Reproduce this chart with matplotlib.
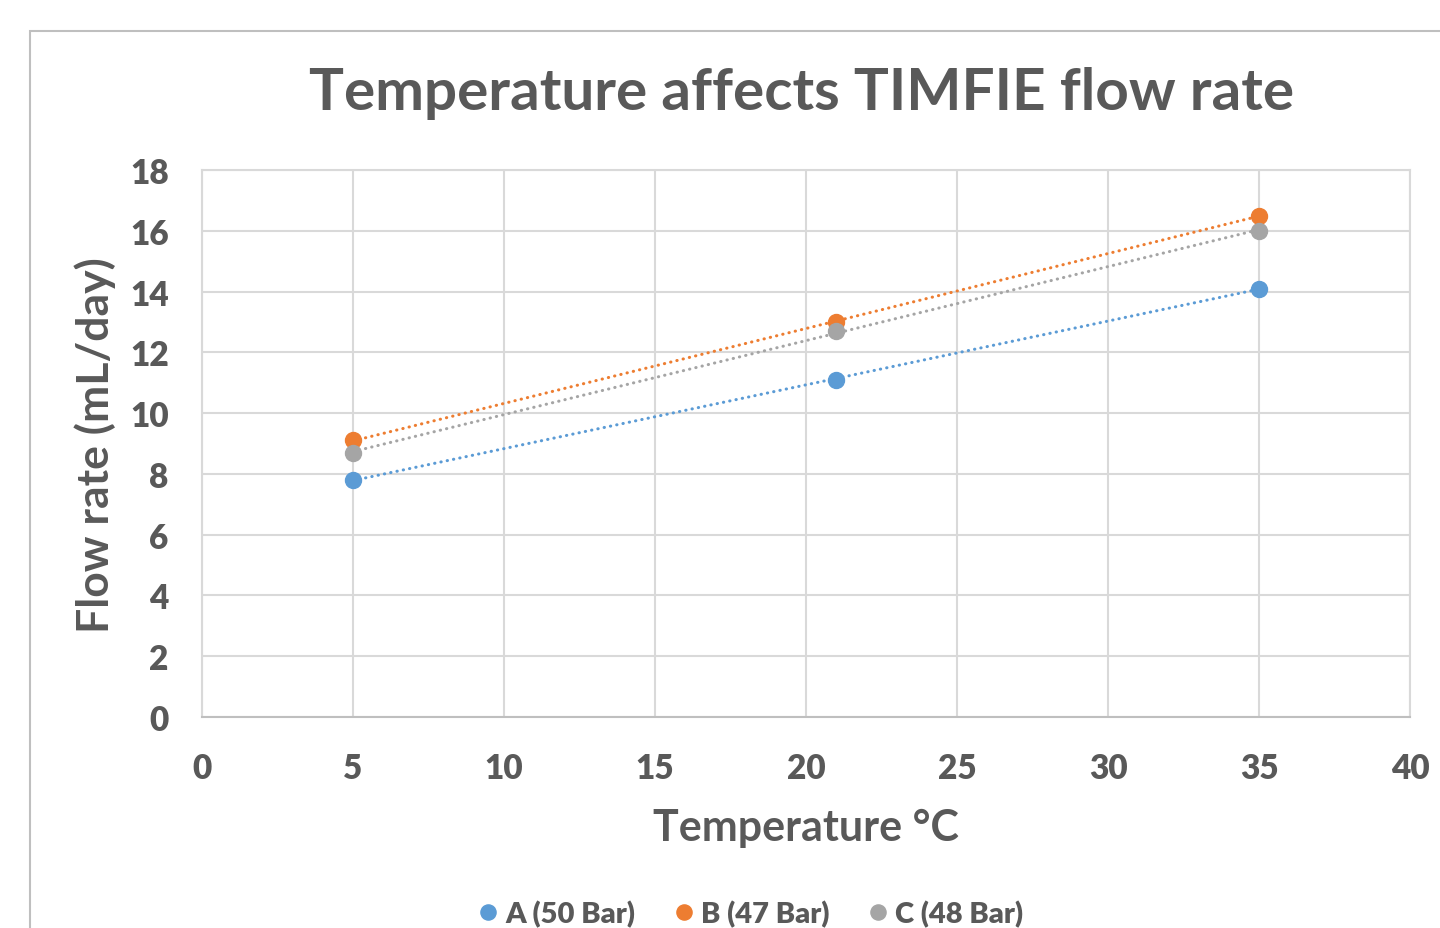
import numpy as np
import matplotlib.pyplot as plt
from matplotlib.patches import Rectangle

plt.rcParams['font.family'] = ['Lato', 'DejaVu Sans']
plt.rcParams['font.weight'] = 'heavy'

temps = [5, 21, 35]
series_names = ["A (50 Bar)", "B (47 Bar)", "C (48 Bar)"]
flow_a = [7.8, 11.1, 14.1]
flow_b = [9.1, 13.0, 16.5]
flow_c = [8.7, 12.7, 16.0]
colors = ['#5b9bd5', '#ed7d31', '#a5a5a5']

txt = '#595959'

fig = plt.figure(figsize=(14.4, 9.29), dpi=100)
ax = fig.add_axes([202/1440, 1-718/929, (1410-202)/1440, (718-171)/929])

# cadre du graphique (coupe a droite et en bas)
fig.patches.append(Rectangle((30/1440, -0.2), 1.5, 1.2-32/929, transform=fig.transFigure,
                             fill=False, edgecolor='#bfbfbf', linewidth=1.5))

for name, ys, c in zip(series_names, [flow_a, flow_b, flow_c], colors):
    # courbe de tendance lineaire
    k, b = np.polyfit(temps, ys, 1)
    xs = np.array([temps[0], temps[-1]])
    ax.plot(xs, k*xs + b, color=c, linewidth=2.2, linestyle=(0, (0.1, 2.0)),
            dash_capstyle='round', zorder=2)
    ax.plot(temps, ys, 'o', color=c, markersize=11.5, label=name, zorder=3)

ax.set_xlim(0, 40)
ax.set_ylim(0, 18)
ax.set_xticks(range(0, 41, 5))
ax.set_yticks(range(0, 19, 2))
ax.grid(True, color='#d9d9d9', linewidth=1.5)
ax.set_axisbelow(True)
for s in ['top', 'right', 'left']:
    ax.spines[s].set_color('#d9d9d9')
    ax.spines[s].set_linewidth(1.5)
ax.spines['bottom'].set_color('#bfbfbf')
ax.spines['bottom'].set_linewidth(1.5)
ax.tick_params(length=0, labelsize=24, labelcolor=txt, pad=24)
ax.tick_params(axis='x', pad=25)

fig.text(802/1440, 1-93/929, "Temperature affects TIMFIE flow rate", ha='center', va='center',
         fontsize=42, fontweight='bold', color=txt)
fig.text(806/1440, 1-828/929, "Temperature °C", ha='center', va='center',
         fontsize=31, fontweight='bold', color=txt)
fig.text(95/1440, 1-445/929, "Flow rate (mL/day)", ha='center', va='center', rotation=90,
         fontsize=32, fontweight='bold', color=txt)

leg = fig.legend(loc='center', bbox_to_anchor=(750/1440, 1-915/929), ncol=3, frameon=False,
                 prop={'size': 21, 'weight': 'heavy'}, handletextpad=0.2, columnspacing=1.25,
                 markerscale=0.95, handlelength=0.8)
for t in leg.get_texts():
    t.set_color(txt)

fig.savefig('out.png', dpi=100)
